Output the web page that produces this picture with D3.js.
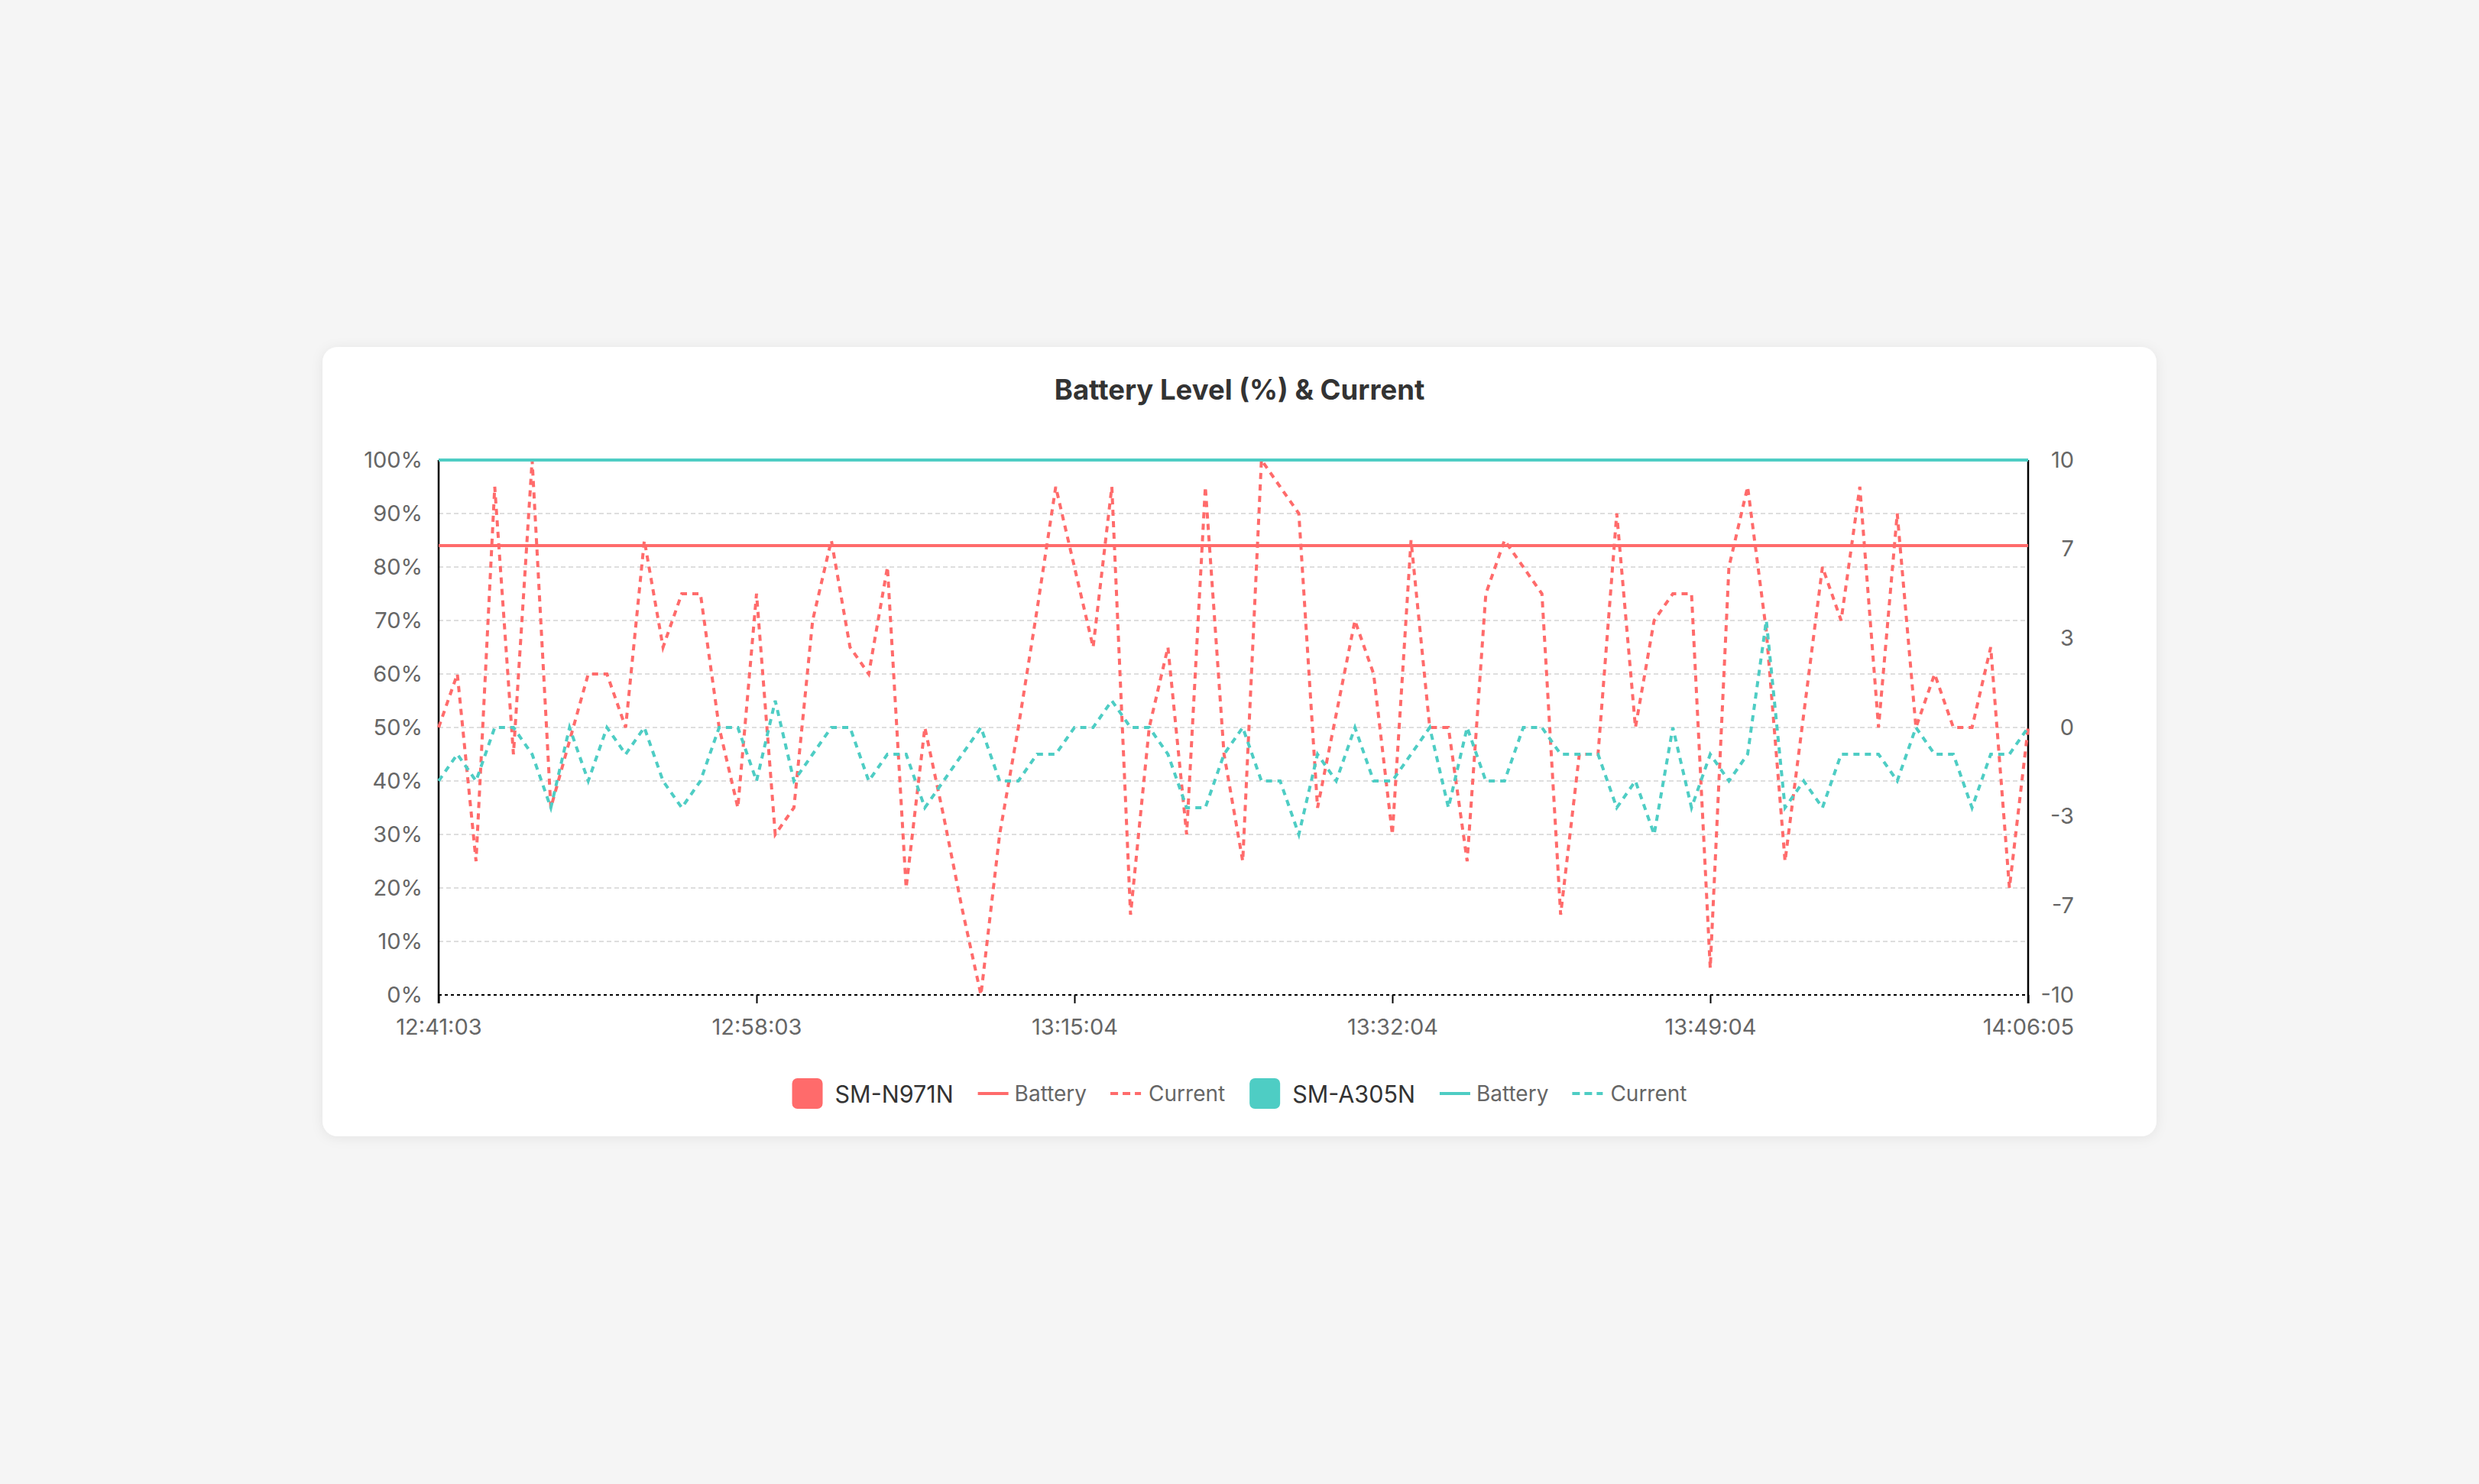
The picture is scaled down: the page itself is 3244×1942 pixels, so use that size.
<!DOCTYPE html>
<html><head><meta charset="utf-8">
<script src="https://cdn.jsdelivr.net/npm/d3@7/dist/d3.min.js"></script>
<style>
html,body{margin:0;padding:0;background:#f5f5f5;overflow:hidden;}
svg{display:block;}
text{font-family:Inter,"Noto Sans",sans-serif;}
</style></head><body>
<svg id="chart" width="3244" height="1942"></svg>
<script>
// ---------- DATA ----------
const times = [
"12:41:03","12:42:03","12:43:03","12:44:03","12:45:03","12:46:03","12:47:03","12:48:03","12:49:03","12:50:03",
"12:51:03","12:52:03","12:53:03","12:54:03","12:55:03","12:56:03","12:57:03","12:58:03","12:59:03","13:00:03",
"13:01:03","13:02:03","13:03:03","13:04:03","13:05:03","13:06:03","13:07:04","13:08:04","13:09:04","13:10:04",
"13:11:04","13:12:04","13:13:04","13:14:04","13:15:04","13:16:04","13:17:04","13:18:04","13:19:04","13:20:04",
"13:21:04","13:22:04","13:23:04","13:24:04","13:25:04","13:26:04","13:27:04","13:28:04","13:29:04","13:30:04",
"13:31:04","13:32:04","13:33:04","13:34:04","13:35:04","13:36:04","13:37:04","13:38:04","13:39:04","13:40:04",
"13:41:04","13:42:04","13:43:04","13:44:04","13:45:04","13:46:04","13:47:04","13:48:04","13:49:04","13:50:04",
"13:51:04","13:52:04","13:53:04","13:54:04","13:55:04","13:56:04","13:57:04","13:58:05","13:59:05","14:00:05",
"14:01:05","14:02:05","14:03:05","14:04:05","14:05:05","14:06:05"];

const devices = ["SM-N971N", "SM-A305N"];
const deviceColors = ["#FF6B6B", "#4ECDC4"];

const batteryN971N = [
84,84,84,84,84,84,84,84,84,84, 84,84,84,84,84,84,84,84,84,84,
84,84,84,84,84,84,84,84,84,84, 84,84,84,84,84,84,84,84,84,84,
84,84,84,84,84,84,84,84,84,84, 84,84,84,84,84,84,84,84,84,84,
84,84,84,84,84,84,84,84,84,84, 84,84,84,84,84,84,84,84,84,84,
84,84,84,84,84,84];
const currentN971N = [
0,2,-5,9,-1,10,-3,-0.5,2,2,
0,7,3,5,5,0,-3,5,-4,-3,
4,7,3,2,6,-6,0,-3.3,-6.8,-10,
-4,0,4.4,9,6,3,9,-7,0,3,
-4,9,-1,-5,10,9,8,-3,0.5,4,
2,-4,7,0,0,-5,5,7,6,5,
-7,-1,-1,8,0,4,5,5,-9,6,
9,3.6,-5,0.5,6,4,9,0,8,0,
2,0,0,3,-6,0];

const batteryA305N = [
100,100,100,100,100,100,100,100,100,100, 100,100,100,100,100,100,100,100,100,100,
100,100,100,100,100,100,100,100,100,100, 100,100,100,100,100,100,100,100,100,100,
100,100,100,100,100,100,100,100,100,100, 100,100,100,100,100,100,100,100,100,100,
100,100,100,100,100,100,100,100,100,100, 100,100,100,100,100,100,100,100,100,100,
100,100,100,100,100,100];
const currentA305N = [
-2,-1,-2,0,0,-1,-3,0,-2,0,
-1,0,-2,-3,-2,0,0,-2,1,-2,
-1,0,0,-2,-1,-1,-3,-2,-1,0,
-2,-2,-1,-1,0,0,1,0,0,-1,
-3,-3,-1,0,-2,-2,-4,-1,-2,0,
-2,-2,-1,0,-3,0,-2,-2,0,0,
-1,-1,-1,-3,-2,-4,0,-3,-1,-2,
-1,4,-3,-2,-3,-1,-1,-1,-2,0,
-1,-1,-3,-1,-1,0];

const leftTicks = [0,10,20,30,40,50,60,70,80,90,100];
const rightDomain = [-10, 10];
const rightTickIntervals = 6;
const xTickStep = 17;
const title = "Battery Level (%) & Current";
const legendLabels = ["Battery", "Current"];

// ---------- LAYOUT ----------
const card = {x:422, y:454, w:2400, h:1033, r:20};
const plot = {l:574, r:2654, t:602, b:1302};
const tickFont = 29;
const lineDash = "8,7";

const svg = d3.select("#chart");
const defs = svg.append("defs");
const f = defs.append("filter").attr("id","shadow").attr("x","-5%").attr("y","-5%").attr("width","110%").attr("height","115%");
f.append("feDropShadow").attr("dx",0).attr("dy",2).attr("stdDeviation",8).attr("flood-color","#000").attr("flood-opacity",0.07);

svg.append("rect").attr("x",card.x).attr("y",card.y).attr("width",card.w).attr("height",card.h)
  .attr("rx",card.r).attr("fill","#fff").attr("filter","url(#shadow)");

svg.append("text").attr("x",card.x+card.w/2).attr("y",510).attr("text-anchor","middle")
  .attr("dominant-baseline","central").attr("font-size",36.5).attr("font-weight",700).attr("fill","#333")
  .text(title);

const x = d3.scalePoint().domain(times).range([plot.l, plot.r]).padding(0);
const yL = d3.scaleLinear().domain([0,100]).range([plot.b, plot.t]);
const yR = d3.scaleLinear().domain(rightDomain).range([plot.b, plot.t]);

// grid
const grid = svg.append("g");
leftTicks.filter(v => v>0 && v<100).forEach(v => {
  grid.append("line").attr("x1",plot.l).attr("x2",plot.r).attr("y1",yL(v)).attr("y2",yL(v))
    .attr("stroke","#dedede").attr("stroke-width",2).attr("stroke-dasharray","6,4");
});

// left axis
const leftAxis = d3.axisLeft(yL).tickValues(leftTicks).tickSize(0).tickPadding(21).tickFormat(d => d + "%");
const gL = svg.append("g").attr("transform",`translate(${plot.l},0)`).call(leftAxis);
gL.select(".domain").remove();
gL.selectAll("text").attr("font-size",tickFont).attr("fill","#666").attr("font-family","Inter");

// right axis
const rightTicks = d3.range(rightTickIntervals+1).map(i => rightDomain[0] + i*(rightDomain[1]-rightDomain[0])/rightTickIntervals);
const rightAxis = d3.axisRight(yR).tickValues(rightTicks).tickSize(0).tickPadding(60).tickFormat(d => String(Math.round(d)));
const gR = svg.append("g").attr("transform",`translate(${plot.r},0)`).call(rightAxis);
gR.select(".domain").remove();
gR.selectAll("text").attr("font-size",tickFont).attr("fill","#666").attr("text-anchor","end").attr("font-family","Inter");

// bottom axis
const xTicks = times.filter((t,i) => i % xTickStep === 0);
const bottomAxis = d3.axisBottom(x).tickValues(xTicks).tickSize(11).tickPadding(20);
const gB = svg.append("g").attr("transform",`translate(0,${plot.b})`).call(bottomAxis);
gB.select(".domain").remove();
gB.selectAll(".tick line").attr("stroke","#000").attr("stroke-width",2);
gB.selectAll("text").attr("font-size",tickFont).attr("fill","#666").attr("font-family","Inter");

// x axis dotted line
svg.append("line").attr("x1",plot.l).attr("x2",plot.r).attr("y1",plot.b).attr("y2",plot.b)
  .attr("stroke","#000").attr("stroke-width",2).attr("stroke-dasharray","4,4");
// y axis lines
svg.append("line").attr("x1",plot.l).attr("x2",plot.l).attr("y1",plot.t).attr("y2",plot.b+11)
  .attr("stroke","#000").attr("stroke-width",2.5);
svg.append("line").attr("x1",plot.r).attr("x2",plot.r).attr("y1",plot.t).attr("y2",plot.b+11)
  .attr("stroke","#000").attr("stroke-width",2.5);

// series
const series = [
  {values: batteryN971N, scale: yL, color: deviceColors[0], dash: null},
  {values: currentN971N, scale: yR, color: deviceColors[0], dash: lineDash},
  {values: batteryA305N, scale: yL, color: deviceColors[1], dash: null},
  {values: currentA305N, scale: yR, color: deviceColors[1], dash: lineDash}
];
const lines = svg.append("g");
series.forEach(s => {
  const ln = d3.line().x((d,i) => x(times[i])).y(d => s.scale(d));
  lines.append("path").attr("d", ln(s.values)).attr("fill","none").attr("stroke", s.color)
    .attr("stroke-width",4).attr("stroke-linejoin","miter")
    .attr("stroke-dasharray", s.dash);
});

// legend
const legend = svg.append("g");
const ly = 1431;
let cx = 0;
const parts = [];
devices.forEach((dev, di) => {
  parts.push({type:"box", color: deviceColors[di]});
  parts.push({type:"gap", w:16});
  parts.push({type:"name", text: dev});
  parts.push({type:"gap", w:32});
  parts.push({type:"line", color: deviceColors[di], dash:null});
  parts.push({type:"gap", w:8});
  parts.push({type:"label", text: legendLabels[0]});
  parts.push({type:"gap", w:31});
  parts.push({type:"line", color: deviceColors[di], dash:"10,6"});
  parts.push({type:"gap", w:10});
  parts.push({type:"label", text: legendLabels[1]});
  if (di < devices.length-1) parts.push({type:"gap", w:32});
});
parts.forEach(p => {
  if (p.type === "gap") { cx += p.w; return; }
  if (p.type === "box") {
    legend.append("rect").attr("x",cx).attr("y",ly-20).attr("width",40).attr("height",40).attr("rx",7).attr("fill",p.color);
    cx += 40;
  } else if (p.type === "line") {
    legend.append("line").attr("x1",cx).attr("x2",cx+40).attr("y1",ly).attr("y2",ly)
      .attr("stroke",p.color).attr("stroke-width",4).attr("stroke-dasharray",p.dash);
    cx += 40;
  } else {
    const t = legend.append("text").attr("x",cx).attr("y",ly).attr("dominant-baseline","central")
      .attr("font-size", p.type==="name" ? 30.5 : 28).attr("fill", p.type==="name" ? "#333" : "#666").text(p.text);
    cx += t.node().getComputedTextLength();
  }
});
legend.attr("transform", `translate(${card.x + card.w/2 - cx/2},0)`);
</script>
</body></html>
